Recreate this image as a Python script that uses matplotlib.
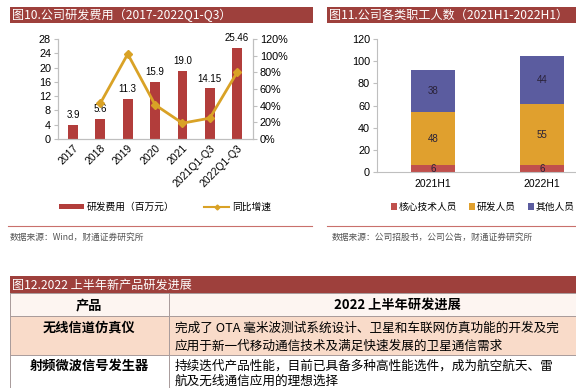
import numpy as np
import matplotlib
matplotlib.use('Agg')
import matplotlib.pyplot as plt
from matplotlib.patches import Rectangle, Patch
from matplotlib.lines import Line2D
from matplotlib.ticker import FuncFormatter

plt.rcParams['font.family'] = ['Liberation Sans', 'Noto Sans CJK SC', 'DejaVu Sans']
CJK = ['Noto Sans CJK SC', 'DejaVu Sans']

# ---------------- data ----------------
years = ['2017', '2018', '2019', '2020', '2021', '2021Q1-Q3', '2022Q1-Q3']
rd_expense = [3.9, 5.6, 11.3, 15.9, 19.0, 14.15, 25.46]
rd_labels = ['3.9', '5.6', '11.3', '15.9', '19.0', '14.15', '25.46']
yoy_growth = [np.nan, 43, 102, 41, 19, 25, 80]

periods = ['2021H1', '2022H1']
core_staff = [6, 6]
rd_staff = [48, 55]
other_staff = [38, 44]

table_header = ['产品', '2022 上半年研发进展']
products = ['无线信道仿真仪', '射频微波信号发生器']
progress = [
    ['完成了 OTA 毫米波测试系统设计、卫星和车联网仿真功能的开发及完',
     '应用于新一代移动通信技术及满足快速发展的卫星通信需求'],
    ['持续迭代产品性能，目前已具备多种高性能选件，成为航空航天、雷',
     '航及无线通信应用的理想选择'],
]

# ---------------- style ----------------
TITLE_RED = '#9e403c'
BAR_RED = '#b23d3b'
GOLD = '#d9a226'
C_CORE = '#c0504d'
C_RD = '#e0a02e'
C_OTHER = '#5b5c9f'
SPINE = '#bfbfbf'

W, H = 576, 388
fig = plt.figure(figsize=(W / 100, H / 100), dpi=100)


def ax_px(x0, y0, x1, y1, **kw):
    return fig.add_axes([x0 / W, 1 - y1 / H, (x1 - x0) / W, (y1 - y0) / H], **kw)


bg = fig.add_axes([0, 0, 1, 1], zorder=0)
bg.set_xlim(0, W)
bg.set_ylim(H, 0)
bg.axis('off')

# title bars
bg.add_patch(Rectangle((10, 7), 303, 16, color=TITLE_RED, lw=0))
bg.text(12, 15.5, '图10.公司研发费用（2017-2022Q1-Q3）', color='white', fontsize=8.7,
        va='center', ha='left', family=CJK)
bg.add_patch(Rectangle((327, 7), 260, 16, color=TITLE_RED, lw=0))
bg.text(329, 15.5, '图11.公司各类职工人数（2021H1-2022H1）', color='white', fontsize=8.7,
        va='center', ha='left', family=CJK)

# source lines
bg.plot([8, 312], [226, 226], color='#c9706c', lw=0.8)
bg.plot([327, 576], [226, 226], color='#c9706c', lw=0.8)
bg.text(10, 237, '数据来源：Wind，财通证券研究所', fontsize=6.3, color='#555555',
        va='center', ha='left', family=CJK)
bg.text(332, 237, '数据来源：公司招股书，公司公告，财通证券研究所', fontsize=6.3,
        color='#555555', va='center', ha='left', family=CJK)

# ---------------- chart 1 ----------------
ax1 = ax_px(58, 39, 253, 139, zorder=2)
ax1.patch.set_alpha(0)
x1 = np.arange(len(years))
bars = ax1.bar(x1, rd_expense, width=0.36, color=BAR_RED, zorder=2)
for xi, v, lab in zip(x1, rd_expense, rd_labels):
    ax1.annotate(lab, (xi, v), xytext=(0, 3.5), textcoords='offset points',
                 ha='center', va='bottom', fontsize=7)
ax1.set_xlim(-0.55, 6.58)
ax1.set_ylim(0, 28)
ax1.set_yticks(np.arange(0, 29, 4))
ax1.set_xticks(x1)
ax1.set_xticklabels(years, rotation=45, ha='right', rotation_mode='anchor', fontsize=7.5)
ax1.tick_params(axis='x', length=0, pad=3)
ax1.tick_params(axis='y', length=3, color=SPINE, labelsize=7.8, pad=2)
for s in ['top']:
    ax1.spines[s].set_visible(False)
for s in ['left', 'bottom', 'right']:
    ax1.spines[s].set_color(SPINE)

ax1r = ax1.twinx()
line, = ax1r.plot(x1, yoy_growth, color=GOLD, lw=2, marker='D', markersize=4.5, zorder=3)
ax1r.set_ylim(0, 120)
ax1r.set_yticks(np.arange(0, 121, 20))
ax1r.yaxis.set_major_formatter(FuncFormatter(lambda v, p: f'{int(v)}%'))
ax1r.tick_params(axis='y', length=3, color=SPINE, labelsize=7.8, pad=2)
ax1r.spines['top'].set_visible(False)
for s in ['left', 'bottom', 'right']:
    ax1r.spines[s].set_color(SPINE)

h1 = [Patch(facecolor=BAR_RED, edgecolor='none'),
      Line2D([], [], color=GOLD, lw=1.5, marker='D', markersize=2.5)]
fig.legend(h1, ['研发费用（百万元）', '同比增速'], loc='center',
           bbox_to_anchor=(165 / W, 1 - 207 / H), ncol=2, frameon=False,
           fontsize=7, handlelength=2.6, handleheight=0.5, columnspacing=3.0,
           handletextpad=0.3)

# ---------------- chart 2 ----------------
ax2 = ax_px(377, 39, 576, 172, zorder=2)
ax2.patch.set_alpha(0)
x2 = np.arange(len(periods))
bw = 0.41
b_core = ax2.bar(x2, core_staff, width=bw, color=C_CORE, label='核心技术人员')
b_rd = ax2.bar(x2, rd_staff, width=bw, bottom=core_staff, color=C_RD, label='研发人员')
bottom_other = [a + b for a, b in zip(core_staff, rd_staff)]
b_oth = ax2.bar(x2, other_staff, width=bw, bottom=bottom_other, color=C_OTHER, label='其他人员')
for cont, vals in [(b_core, core_staff), (b_rd, rd_staff), (b_oth, other_staff)]:
    ax2.bar_label(cont, labels=[str(v) for v in vals], label_type='center',
                  fontsize=7, color='#2a2238')
ax2.set_xlim(-0.514, 1.312)
ax2.set_ylim(0, 120)
ax2.set_yticks(np.arange(0, 121, 20))
ax2.set_xticks(x2)
ax2.set_xticklabels(periods, fontsize=7.5)
ax2.tick_params(axis='x', length=0, pad=5)
ax2.tick_params(axis='y', length=3, color=SPINE, labelsize=7.8, pad=2)
for s in ['top', 'right']:
    ax2.spines[s].set_visible(False)
for s in ['left', 'bottom']:
    ax2.spines[s].set_color(SPINE)

fig.legend(handles=[b_core, b_rd, b_oth], loc='center',
           bbox_to_anchor=(483 / W, 1 - 207 / H), ncol=3, frameon=False,
           fontsize=7, handlelength=0.6, handleheight=0.6, columnspacing=1.2,
           handletextpad=0.2)

# ---------------- table ----------------
bg.add_patch(Rectangle((10, 276), 570, 17, color=TITLE_RED, lw=0))
bg.text(12, 285, '图12.2022 上半年新产品研发进展', color='white', fontsize=8.7,
        va='center', ha='left', family=CJK)
bg.add_patch(Rectangle((10, 293), 570, 23, facecolor='#fdf5f1', edgecolor='none'))
bg.add_patch(Rectangle((10, 316), 570, 39, facecolor='#f9dbc9', edgecolor='none'))
bg.add_patch(Rectangle((10, 355), 570, 40, facecolor='white', edgecolor='none'))
for yy in [293, 316, 355]:
    bg.plot([10, 580], [yy, yy], color='#a89a9a', lw=0.7)
for xx in [10, 169]:
    bg.plot([xx, xx], [293, 395], color='#a89a9a', lw=0.7)

bg.text(89, 305, table_header[0], fontsize=9.5, fontweight='bold', ha='center',
        va='center', family=CJK)
bg.text(397, 305, table_header[1], fontsize=9.5, fontweight='bold', ha='center',
        va='center', family=CJK)
row_tops = [328, 366]
line_gap = [18.5, 15.5]
for prod, lines, y0, gap in zip(products, progress, row_tops, line_gap):
    bg.text(89, y0, prod, fontsize=9.5, fontweight='bold', ha='center', va='center',
            family=CJK)
    for i, ln in enumerate(lines):
        bg.text(175, y0 + gap * i, ln, fontsize=9.1, ha='left', va='center', family=CJK)

fig.savefig('out.png', dpi=100)
